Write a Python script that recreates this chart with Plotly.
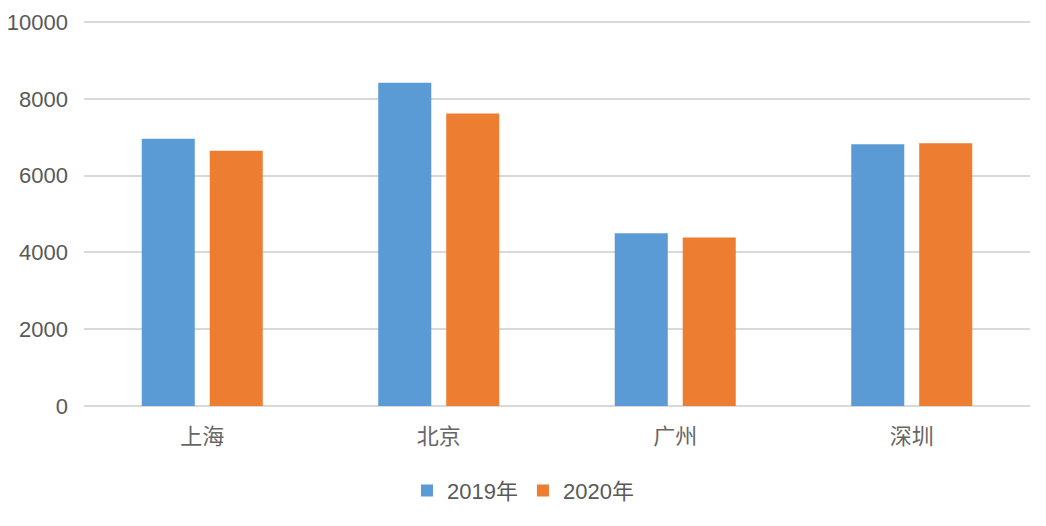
import plotly.graph_objects as go

cities = ["上海", "北京", "广州", "深圳"]
series_names = ["2019年", "2020年"]
values_2019 = [6960, 8420, 4500, 6820]
values_2020 = [6650, 7620, 4390, 6845]
y_ticks = [0, 2000, 4000, 6000, 8000, 10000]
y_tick_text = ["0", "2000", "4000", "6000", "8000", "10000"]

colors = ["#5b9bd5", "#ed7d31"]
font_family = "Liberation Sans, Noto Sans CJK SC, sans-serif"

fig = go.Figure()
fig.add_trace(go.Bar(x=cities, y=values_2019, name=series_names[0],
                     marker=dict(color=colors[0], line=dict(width=0))))
fig.add_trace(go.Bar(x=cities, y=values_2020, name=series_names[1],
                     marker=dict(color=colors[1], line=dict(width=0))))

fig.update_layout(
    width=1030, height=510,
    margin=dict(l=76, r=8, t=13, b=111.5, autoexpand=False),
    paper_bgcolor="white", plot_bgcolor="white",
    barmode="group", bargap=0.425, bargroupgap=0.22,
    font=dict(family=font_family, size=22, color="#595959"),
    showlegend=True,
    legend=dict(orientation="h", xref="container", x=0.5, xanchor="center",
                y=-0.22, yanchor="middle",
                font=dict(size=22, color="#595959"), itemwidth=30,
                traceorder="normal"),
    xaxis=dict(showgrid=False, showline=False, ticks="", automargin=False,
               ticklabelstandoff=15,
               tickfont=dict(size=22, color="#666666", family="Noto Sans CJK SC, sans-serif")),
    yaxis=dict(range=[0, 10030], tickvals=y_ticks, ticktext=y_tick_text, showgrid=True,
               gridcolor="#d9d9d9", gridwidth=2, zeroline=True, automargin=False,
               zerolinecolor="#d9d9d9", zerolinewidth=2, showline=False,
               ticks="", ticklabelstandoff=15,
               tickfont=dict(size=22, color="#595959")),
)

fig.write_html("out.html")
